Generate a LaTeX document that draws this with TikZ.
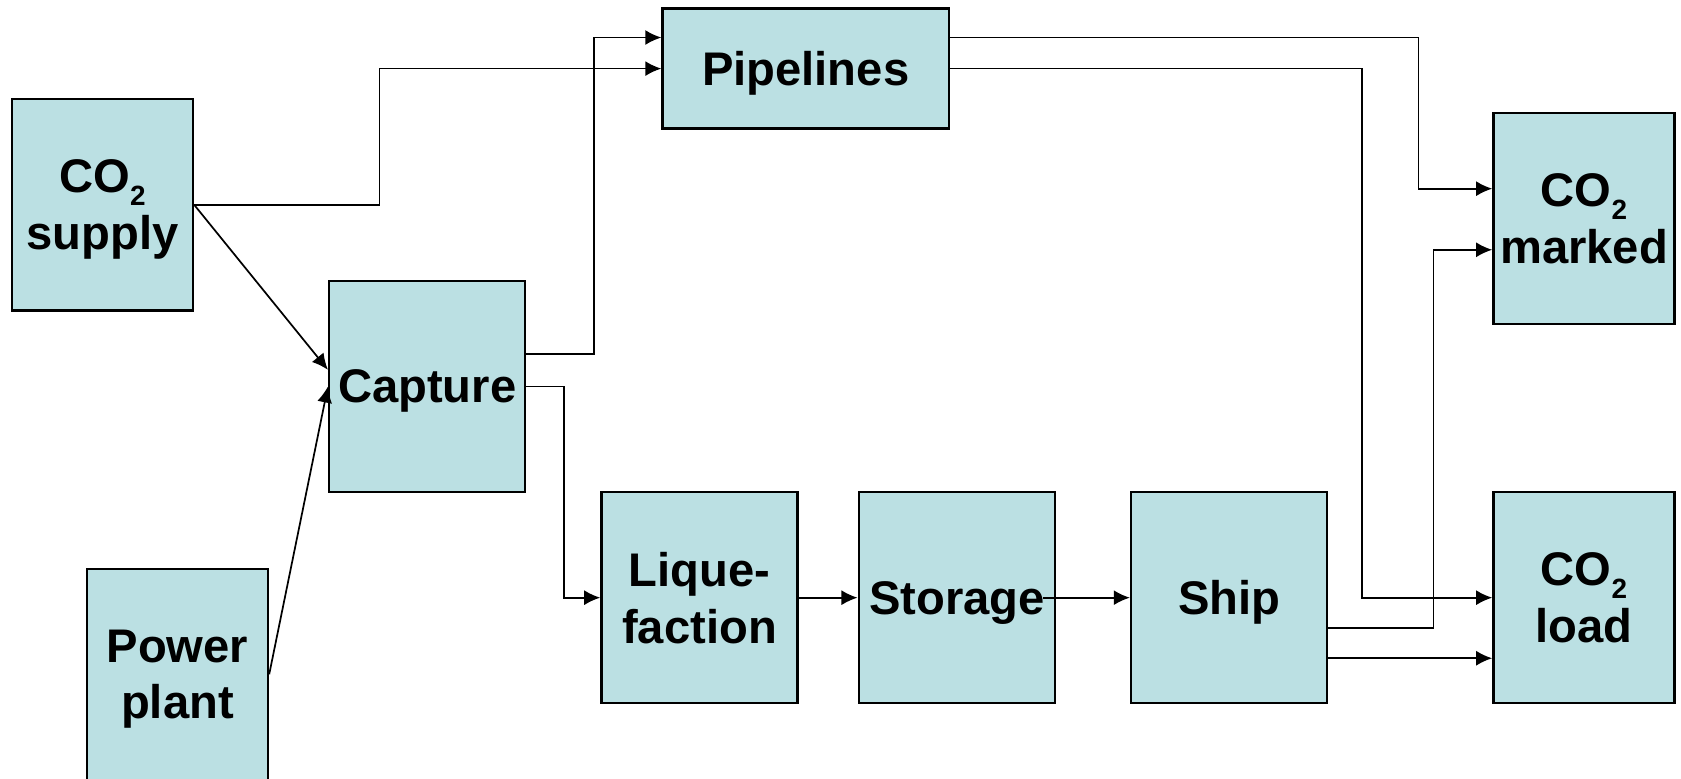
\documentclass[tikz,border=0pt]{standalone}
\usepackage{fontspec}
\setmainfont{Liberation Sans}
\usetikzlibrary{calc,arrows.meta}
\definecolor{boxfill}{RGB}{187,224,227}
\newcommand{\cotwo}{CO\raisebox{-6pt}{\fontsize{13}{13}\selectfont 2}}

\begin{document}
\begin{tikzpicture}[x=0.5pt,y=-0.5pt,
        unit/.style={draw,line width=1.1pt,fill=boxfill,align=center,inner sep=0pt,
            minimum width=91.5pt,minimum height=98.5pt,text depth=-1.6pt,
            font=\fontsize{22}{26.5}\selectfont\bfseries},
        narrow/.style={unit,minimum width=84.5pt}]
        \useasboundingbox (0,0) rectangle (1568,726);

        \node[narrow] (supply) at (95.5,191) {\cotwo\\supply};
        \node[unit,minimum width=133.5pt,minimum height=56pt] (pipes) at (751.5,64) {Pipelines};
        \node[unit] (capture) at (398.5,360.5) {Capture};
        \node[narrow] (power) at (165.5,629) {Power\\plant};
        \node[unit] (liquid) at (652.5,557.5) {Lique-\\faction};
        \node[unit] (storage) at (892.5,557.5) {Storage};
        \node[unit] (ship) at (1146.5,557.5) {Ship};
        \node[narrow] (market) at (1477.5,204) {\cotwo\\marked};
        \node[narrow] (load) at (1477.5,557.5) {\cotwo\\load};

        \path[->,line width=0.8pt,>={Latex[length=7.5pt,width=7pt]}]
        (supply.east) edge ([yshift=7.75pt]capture.west)
        (power.east) edge (capture.west)
        (liquid.east) edge (storage.west)
        ([xshift=-6pt]storage.east) edge (ship.west)
        ([yshift=-28.25pt]ship.east) edge ([yshift=-28.25pt]load.west);

        \draw[->,line width=0.8pt,>={Latex[length=7.5pt,width=7pt]}]
        (supply.east) -- ++(173,0) |- (pipes.west);
        \draw[->,line width=0.8pt,>={Latex[length=7.5pt,width=7pt]}]
        ([yshift=15pt]capture.east) -- ++(63,0) |- ([yshift=14.5pt]pipes.west);
        \draw[->,line width=0.8pt,>={Latex[length=7.5pt,width=7pt]}]
        (capture.east) -- ++(35,0) |- (liquid.west);
        \draw[->,line width=0.8pt,>={Latex[length=7.5pt,width=7pt]}]
        ([yshift=14.5pt]pipes.east) -- ++(437,0) |- ([yshift=14pt]market.west);
        \draw[->,line width=0.8pt,>={Latex[length=7.5pt,width=7pt]}]
        (pipes.east) -- ++(384,0) |- (load.west);
        \draw[->,line width=0.8pt,>={Latex[length=7.5pt,width=7pt]}]
        ([yshift=-14.25pt]ship.east) -- ++(98,0) |- ([yshift=-14.5pt]market.west);
\end{tikzpicture}
\end{document}
